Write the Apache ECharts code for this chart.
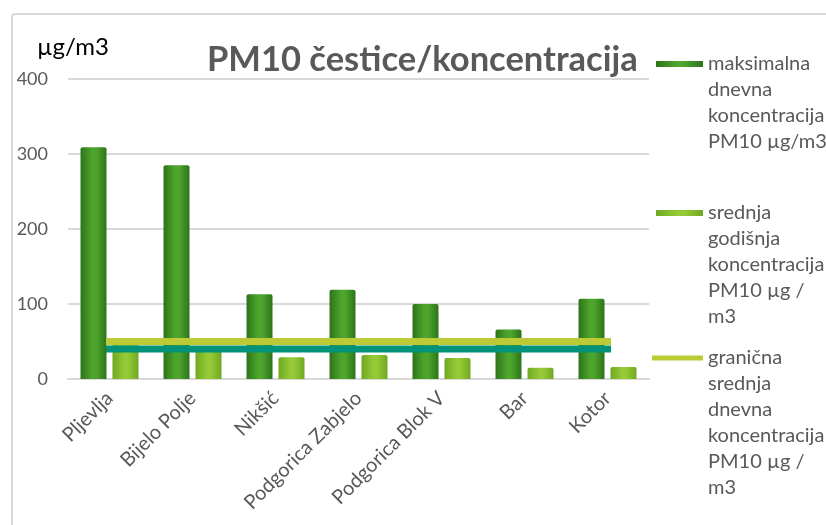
<!DOCTYPE html>
<html>
<head>
<meta charset="utf-8">
<script src="https://cdn.jsdelivr.net/npm/echarts@6/dist/echarts.min.js"></script>
<style>html,body{margin:0;padding:0;background:#fff}#c{width:826px;height:525px}</style>
</head>
<body>
<div id="c"></div>
<script>
var categories = ['Pljevlja', 'Bijelo Polje', 'Nikšić', 'Podgorica Zabjelo', 'Podgorica Blok V', 'Bar', 'Kotor'];
var maxDaily = [309, 285, 113, 119, 100, 66, 107];
var meanAnnual = [47, 41, 29, 32, 28, 15, 16];
var dailyLimit = [50, 50, 50, 50, 50, 50, 50];
var annualLimit = [40, 40, 40, 40, 40, 40, 40];
var yTicks = [0, 100, 200, 300, 400];

var nameMax = 'maksimalna dnevna koncentracija PM10 µg/m3';
var nameMean = 'srednja godišnja koncentracija PM10 µg / m3';
var nameLimit = 'granična srednja dnevna koncentracija PM10 µg / m3';
var nameAnnual = 'granična srednja godišnja koncentracija PM10 µg / m3';
var legendLines = {};
legendLines[nameMax] = ['maksimalna', 'dnevna', 'koncentracija', 'PM10 µg/m3'];
legendLines[nameMean] = ['srednja', 'godišnja', 'koncentracija', 'PM10 µg /', 'm3'];
legendLines[nameLimit] = ['granična', 'srednja', 'dnevna', 'koncentracija', 'PM10 µg /', 'm3'];

function legendFmt(name) {
  var l = legendLines[name];
  var pad = [];
  for (var i = 1; i < l.length; i++) pad.push('');
  return pad.concat(l).join('\n');
}

var FONT = 'Lato';
var darkGrad = new echarts.graphic.LinearGradient(0, 0, 1, 0, [
  {offset: 0, color: '#2c7419'}, {offset: 0.45, color: '#4ea52d'}, {offset: 0.6, color: '#4ea52d'}, {offset: 1, color: '#2c7419'}
]);
var lightGrad = new echarts.graphic.LinearGradient(0, 0, 1, 0, [
  {offset: 0, color: '#6fa822'}, {offset: 0.45, color: '#95c936'}, {offset: 0.6, color: '#95c936'}, {offset: 1, color: '#6fa822'}
]);
var legendText = {color: '#595959', fontFamily: FONT, fontSize: 20, lineHeight: 26};

var chart = echarts.init(document.getElementById('c'));
chart.setOption({
  animation: false,
  backgroundColor: '#fff',
  title: {
    text: 'PM10 čestice/koncentracija',
    left: 202, top: 37,
    textStyle: {color: '#595959', fontFamily: FONT, fontWeight: 'bold', fontSize: 34.5}
  },
  graphic: [
    {type: 'rect', shape: {x: 12, y: 14, width: 900, height: 600, r: 3}, style: {fill: 'none', stroke: '#d9d9d9', lineWidth: 2}, silent: true},
    {type: 'text', left: 37, top: 35, style: {text: 'µg/m3', fill: '#000', font: '24px Lato'}}
  ],
  legend: [
    {data: [nameMax], orient: 'vertical', left: 656, top: -27, padding: 0, itemWidth: 47, itemHeight: 6, icon: 'rect',
     formatter: legendFmt, textStyle: legendText, selectedMode: false},
    {data: [nameMean], orient: 'vertical', left: 656, top: 96, padding: 0, itemWidth: 47, itemHeight: 6, icon: 'rect',
     formatter: legendFmt, textStyle: legendText, selectedMode: false},
    {data: [nameLimit], orient: 'vertical', left: 652, top: 215, padding: 0, itemWidth: 51, itemHeight: 5, icon: 'rect',
     formatter: legendFmt, textStyle: legendText, selectedMode: false}
  ],
  grid: {left: 68, right: 177, top: 79, bottom: 146, containLabel: false},
  xAxis: {
    type: 'category', data: categories,
    axisLine: {lineStyle: {color: '#d9d9d9', width: 2}},
    axisTick: {show: false},
    axisLabel: {rotate: 45, color: '#595959', fontFamily: FONT, fontSize: 20, margin: 16, interval: 0}
  },
  yAxis: {
    type: 'value', min: yTicks[0], max: yTicks[yTicks.length - 1], interval: 100,
    axisLine: {show: false}, axisTick: {show: false},
    splitLine: {lineStyle: {color: '#d9d9d9', width: 2}},
    axisLabel: {color: '#595959', fontFamily: FONT, fontSize: 18, margin: 20}
  },
  series: [
    {name: nameMax, type: 'bar', data: maxDaily, barWidth: 26, barGap: '23%',
     itemStyle: {color: darkGrad, borderRadius: [2, 2, 0, 0]}},
    {name: nameMean, type: 'bar', data: meanAnnual, barWidth: 26,
     itemStyle: {color: lightGrad, borderRadius: [2, 2, 0, 0]}},
    {name: nameAnnual, type: 'line', data: annualLimit, symbol: 'none', z: 5,
     lineStyle: {color: '#00937a', width: 7, cap: 'square'}, itemStyle: {color: '#00937a'}},
    {name: nameLimit, type: 'line', data: dailyLimit, symbol: 'none', z: 6,
     lineStyle: {color: '#bccb35', width: 7, cap: 'square'}, itemStyle: {color: '#bccb35'}}
  ]
});
</script>
</body>
</html>
